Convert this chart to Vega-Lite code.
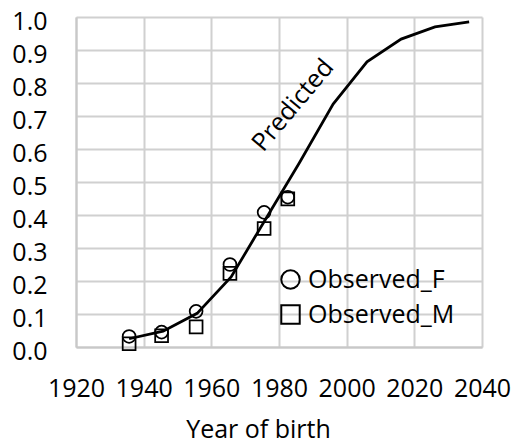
{
  "$schema": "https://vega.github.io/schema/vega-lite/v6.json",
  "width": 406,
  "height": 330,
  "autosize": {"type": "none"},
  "padding": {"left": 76, "top": 17, "right": 30, "bottom": 99},
  "background": "white",
  "config": {
    "font": "Open Sans",
    "view": {"stroke": null},
    "axis": {
      "labelFont": "Open Sans",
      "labelFontSize": 25,
      "labelColor": "#000000",
      "titleFont": "Open Sans",
      "titleFontSize": 25,
      "titleFontWeight": "normal",
      "titleColor": "#000000",
      "grid": true,
      "gridColor": "#d0d0d0",
      "gridOpacity": 1,
      "gridWidth": 2,
      "domain": true,
      "domainColor": "#c8c8c8",
      "domainWidth": 2,
      "ticks": false
    }
  },
  "datasets": {
    "pred": [
      {"year": 1935.7, "value": 0.025},
      {"year": 1945.75, "value": 0.048},
      {"year": 1955.8, "value": 0.102},
      {"year": 1965.85, "value": 0.212},
      {"year": 1975.9, "value": 0.385},
      {"year": 1985.95, "value": 0.557},
      {"year": 1996.0, "value": 0.736},
      {"year": 2006.0, "value": 0.864},
      {"year": 2016.1, "value": 0.933},
      {"year": 2026.1, "value": 0.97},
      {"year": 2036.2, "value": 0.985}
    ],
    "obs": [
      {"year": 1935.7, "value": 0.032, "series": "Observed_F"},
      {"year": 1945.3, "value": 0.045, "series": "Observed_F"},
      {"year": 1955.5, "value": 0.108, "series": "Observed_F"},
      {"year": 1965.5, "value": 0.25, "series": "Observed_F"},
      {"year": 1975.6, "value": 0.408, "series": "Observed_F"},
      {"year": 1982.6, "value": 0.454, "series": "Observed_F"},
      {"year": 1935.7, "value": 0.01, "series": "Observed_M"},
      {"year": 1945.3, "value": 0.034, "series": "Observed_M"},
      {"year": 1955.5, "value": 0.061, "series": "Observed_M"},
      {"year": 1965.5, "value": 0.223, "series": "Observed_M"},
      {"year": 1975.6, "value": 0.359, "series": "Observed_M"},
      {"year": 1982.6, "value": 0.449, "series": "Observed_M"}
    ],
    "labels": [
      {"year": 1984.1, "value": 0.733, "text": "Predicted"}
    ]
  },
  "encoding": {
    "x": {
      "field": "year",
      "type": "quantitative",
      "scale": {"domain": [1920, 2040], "nice": false, "zero": false},
      "axis": {
        "values": [1920, 1940, 1960, 1980, 2000, 2020, 2040],
        "format": "d",
        "grid": true,
        "labelPadding": 29,
        "labelFlush": false,
        "labelOverlap": false,
        "title": "Year of birth",
        "titleX": 182,
        "titleY": 90,
        "titleAlign": "center",
        "titleBaseline": "alphabetic"
      }
    },
    "y": {
      "field": "value",
      "type": "quantitative",
      "scale": {"domain": [0, 1], "nice": false},
      "axis": {
        "values": [0, 0.1, 0.2, 0.3, 0.4, 0.5, 0.6, 0.7, 0.8, 0.9, 1.0],
        "format": ".1f",
        "grid": true,
        "labelPadding": 29,
        "labelOffset": 4,
        "labelFlush": false,
        "labelOverlap": false,
        "title": null
      }
    }
  },
  "layer": [
    {
      "data": {"name": "pred"},
      "mark": {"type": "line", "color": "#000000", "strokeWidth": 2.75}
    },
    {
      "data": {"name": "obs"},
      "mark": {"type": "point", "filled": false, "stroke": "#000000", "strokeWidth": 1.75, "opacity": 1, "size": 165},
      "encoding": {
        "shape": {
          "field": "series",
          "type": "nominal",
          "scale": {"domain": ["Observed_F", "Observed_M"], "range": ["circle", "square"]},
          "legend": {
            "title": null,
            "orient": "none",
            "legendX": 202,
            "legendY": 250,
            "padding": 0,
            "labelFont": "Open Sans",
            "labelFontSize": 25,
            "labelColor": "#000000",
            "labelOffset": 5,
            "rowPadding": 8,
            "symbolSize": 340,
            "symbolStrokeColor": "#000000",
            "symbolStrokeWidth": 2,
            "symbolFillColor": "transparent"
          }
        }
      }
    },
    {
      "data": {"name": "labels"},
      "mark": {"type": "text", "angle": -50, "align": "center", "baseline": "middle", "fontSize": 25, "font": "Open Sans", "color": "#000000"},
      "encoding": {
        "text": {"field": "text", "type": "nominal"}
      }
    }
  ]
}
